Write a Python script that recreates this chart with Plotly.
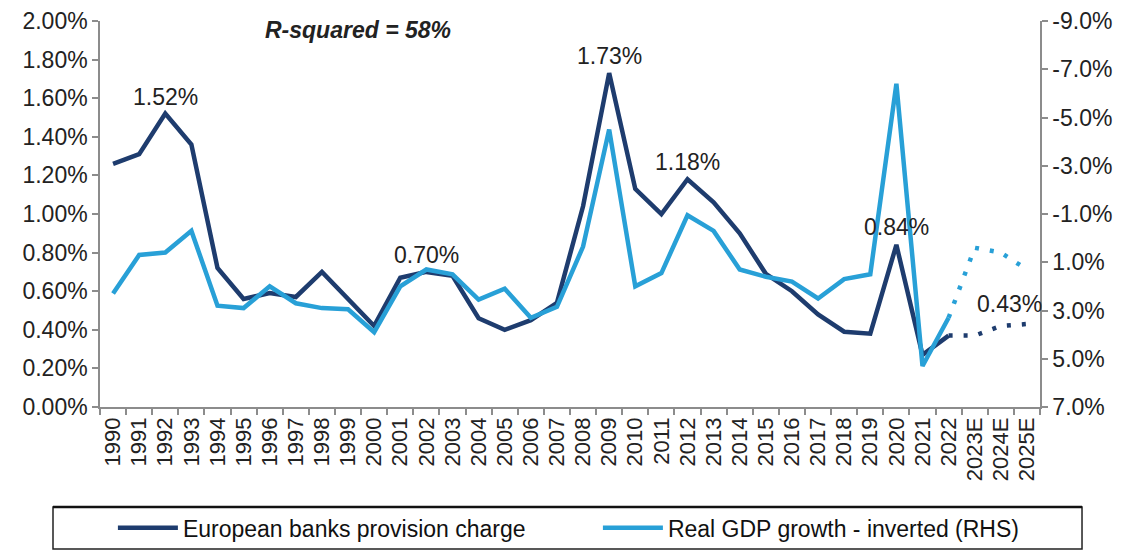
import plotly.graph_objects as go

years = [str(y) for y in range(1990, 2023)] + ["2023E", "2024E", "2025E"]
provision = [1.26, 1.31, 1.52, 1.36, 0.72, 0.56, 0.59, 0.57, 0.70, 0.56,
             0.42, 0.67, 0.70, 0.68, 0.46, 0.40, 0.45, 0.54, 1.04, 1.73,
             1.13, 1.00, 1.18, 1.06, 0.90, 0.69, 0.60, 0.48, 0.39, 0.38,
             0.84, 0.27, 0.37, 0.37, 0.42, 0.43]
gdp = [2.3, 0.7, 0.6, -0.3, 2.8, 2.9, 2.0, 2.7, 2.9, 2.95,
       3.9, 2.0, 1.3, 1.5, 2.55, 2.1, 3.3, 2.85, 0.35, -4.5,
       2.0, 1.45, -0.95, -0.3, 1.3, 1.6, 1.8, 2.5, 1.7, 1.5,
       -6.4, 5.3, 3.3, 0.4, 0.6, 1.3]
left_ticks = [0.0, 0.2, 0.4, 0.6, 0.8, 1.0, 1.2, 1.4, 1.6, 1.8, 2.0]
right_ticks = [-9, -7, -5, -3, -1, 1, 3, 5, 7]
label_years = ["1992", "2002", "2009", "2012", "2020", "2025E"]
last_actual = "2022"

DARK = "#1e3c6e"
LIGHT = "#28a0d7"
FONT = "Liberation Sans, Arial, sans-serif"

split = years.index(last_actual) + 1
xi = list(range(len(years)))

fig = go.Figure()
fig.add_trace(go.Scatter(x=years[:split], y=provision[:split], mode="lines",
                         name="European banks provision charge",
                         line=dict(color=DARK, width=4.5), yaxis="y"))
fig.add_trace(go.Scatter(x=years[:split], y=gdp[:split], mode="lines",
                         name="Real GDP growth - inverted (RHS)",
                         line=dict(color=LIGHT, width=4.5), yaxis="y2"))
fig.add_trace(go.Scatter(x=years[split - 1:], y=provision[split - 1:], mode="lines",
                         showlegend=False,
                         line=dict(color=DARK, width=4.5, dash="4px,11px"), yaxis="y"))
fig.add_trace(go.Scatter(x=years[split - 1:], y=gdp[split - 1:], mode="lines",
                         showlegend=False,
                         line=dict(color=LIGHT, width=4.5, dash="4px,11px"), yaxis="y2"))

annotations = []
for yr in label_years:
    i = years.index(yr)
    xs, ys = (0, 17)
    if yr == "2025E":
        xs, ys = (-17, 20)
    if yr == "2020":
        ys = 18
    annotations.append(dict(x=xi[i], y=provision[i], xref="x", yref="y",
                            text=f"{provision[i]:.2f}%", showarrow=False,
                            xanchor="center", yanchor="middle",
                            xshift=xs, yshift=ys,
                            font=dict(family=FONT, size=23, color="#222222")))
annotations.append(dict(x=0.274, y=1.0, xref="paper", yref="paper",
                        text="<b><i>R-squared = 58%</i></b>", showarrow=False,
                        xanchor="center", yanchor="top", yshift=6,
                        font=dict(family=FONT, size=23, color="#222222")))

axis_common = dict(showgrid=False, zeroline=False, showline=True,
                   linecolor="#8c8c8c", linewidth=1.5, ticks="outside",
                   tickcolor="#8c8c8c", ticklen=6, tickwidth=1.5, automargin=False)

fig.update_layout(
    width=1126, height=550,
    margin=dict(l=100, r=86, t=21, b=143, autoexpand=False),
    paper_bgcolor="white", plot_bgcolor="white",
    font=dict(family=FONT, size=22, color="#222222"),
    xaxis=dict(type="category", tickangle=-90, tickson="boundaries",
               tickfont=dict(size=22), categoryorder="array", categoryarray=years,
               range=[-0.5, len(years) - 0.5], **axis_common),
    yaxis=dict(range=[0, 2.0], tickvals=left_ticks,
               ticktext=[f"{v:.2f}%" for v in left_ticks],
               tickfont=dict(size=23), **axis_common),
    yaxis2=dict(range=[7, -9], tickvals=right_ticks,
                ticktext=[f"{v:.1f}%" for v in right_ticks],
                overlaying="y", side="right", tickfont=dict(size=23), **axis_common),
    showlegend=True,
    legend=dict(orientation="h", x=-0.0001, xanchor="left", y=-0.313, yanchor="middle",
                xref="paper", yref="paper", itemwidth=60, indentation=13,
                entrywidth=397, entrywidthmode="pixels",
                font=dict(family=FONT, size=23, color="#111111"),
                bgcolor="rgba(0,0,0,0)"),
    annotations=annotations,
    shapes=[
        dict(type="rect", xref="paper", yref="paper", x0=-0.05, x1=1.0447,
             y0=-0.259, y1=-0.368, line=dict(color="#222222", width=1.5)),
        dict(type="line", xref="paper", yref="paper", x0=-0.05, x1=1.0447,
             y0=-0.259, y1=-0.259, line=dict(color="#111111", width=2.5)),
    ],
)

fig.write_html("out.html", config={"displayModeBar": False},
               post_script="document.body.style.margin='0';")
